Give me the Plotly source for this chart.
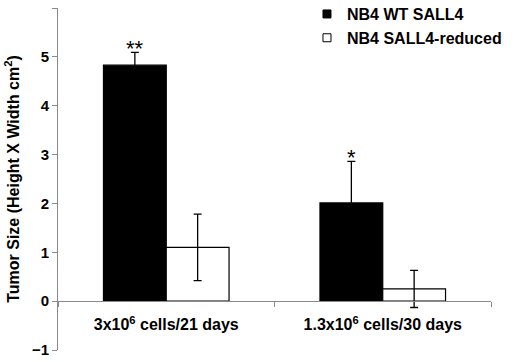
import plotly.graph_objects as go

groups = ['3x10<sup>6</sup> cells/21 days', '1.3x10<sup>6</sup> cells/30 days']
wt_values = [4.83, 2.01]
wt_errors = [0.26, 0.85]
reduced_values = [1.10, 0.25]
reduced_errors = [0.68, 0.38]
stars = ['**', '*']
series_names = ['NB4 WT SALL4', 'NB4 SALL4-reduced']

family = 'Liberation Sans, Arial, sans-serif'
bargap = 0.42

fig = go.Figure()
fig.add_trace(go.Bar(
    x=groups,
    y=wt_values,
    name=series_names[0],
    showlegend=False,
    marker=dict(color='black', line=dict(color='black', width=1.2)),
    error_y=dict(type='data', array=wt_errors, color='black', thickness=1.3, width=4),
))
fig.add_trace(go.Bar(
    x=groups,
    y=reduced_values,
    name=series_names[1],
    showlegend=False,
    marker=dict(color='white', line=dict(color='black', width=1.2)),
    error_y=dict(type='data', array=reduced_errors, color='black', thickness=1.3, width=4),
))

# legend entries with small square swatches
for name, fill in zip(series_names, ['black', 'white']):
    fig.add_trace(go.Scatter(
        x=[None], y=[None], mode='markers', name=name,
        marker=dict(symbol='square', size=8, color=fill, line=dict(color='black', width=1)),
    ))

# significance stars over the black bars
offset = -(1 - bargap) / 4
for i, s in enumerate(stars):
    fig.add_annotation(
        x=i + offset, y=wt_values[i] + wt_errors[i],
        text=s, showarrow=False, yanchor='middle', yshift=4,
        font=dict(family=family, size=22, color='black'),
    )

fig.update_xaxes(
    type='category',
    anchor='free',
    position=1 / 7,
    automargin=False,
    showline=True,
    linecolor='#8a8a8a',
    linewidth=1,
    ticks='outside',
    tickson='boundaries',
    ticklen=5,
    tickcolor='#8a8a8a',
    ticklabelstandoff=9,
    tickfont=dict(family=family, size=16, color='black', weight='bold'),
    showgrid=False,
    zeroline=False,
)
fig.update_yaxes(
    range=[-1, 6],
    dtick=1,
    automargin=False,
    showline=True,
    linecolor='#8a8a8a',
    linewidth=1,
    ticks='outside',
    ticklen=5,
    tickcolor='#8a8a8a',
    tickfont=dict(family=family, size=15, color='black', weight='bold'),
    showgrid=False,
    zeroline=False,
    title=dict(
        text='Tumor Size (Height X Width cm<sup>2</sup>)',
        font=dict(family=family, size=16, color='black', weight='bold'),
        standoff=8,
    ),
)

fig.update_layout(
    width=520,
    height=362,
    barmode='group',
    bargap=bargap,
    bargroupgap=0,
    paper_bgcolor='white',
    plot_bgcolor='white',
    margin=dict(l=58, r=29, t=8, b=12, autoexpand=False),
    legend=dict(
        x=0.575, y=1.032, xanchor='left', yanchor='top',
        font=dict(family=family, size=16, color='black', weight='bold'),
        bgcolor='rgba(0,0,0,0)',
        itemwidth=30,
        tracegroupgap=0,
    ),
    showlegend=True,
)

# drop the browser's default body margin so the figure sits at the page corner
fig.write_html(
    'out.html',
    config={'displayModeBar': False},
    post_script="document.body.style.margin='0';",
)
